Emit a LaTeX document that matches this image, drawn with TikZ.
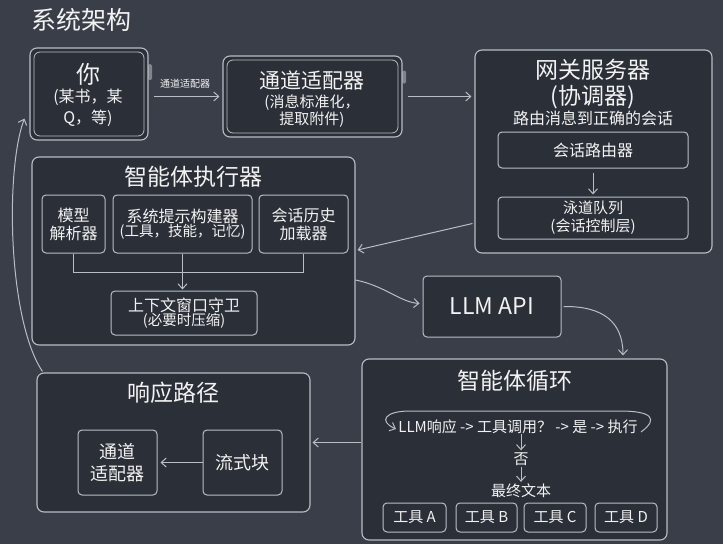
\documentclass[tikz,border=0pt]{standalone}
\usepackage{fontspec}
\setmainfont{Noto Sans CJK SC}
\usetikzlibrary{arrows.meta,calc}
\definecolor{bg}{HTML}{393E49}
\definecolor{boxfill}{HTML}{2B2F38}
\definecolor{edge}{HTML}{B9BDC5}
\definecolor{txt}{HTML}{F2F2F2}
\definecolor{btn}{HTML}{80848C}
\begin{document}
\begin{tikzpicture}[x=1pt,y=-1pt,
  box/.style={draw=edge,fill=boxfill,line width=1.1pt,rounded corners=7pt,inner sep=0pt},
  inbox/.style={draw=edge,line width=0.8pt,rounded corners=6pt,inner sep=0pt},
  sbox/.style={draw=edge,fill=boxfill,line width=1pt,rounded corners=4pt,inner sep=2pt,text=txt,align=center},
  lbl/.style={text=txt,align=center,inner sep=0pt},
  btnstyle/.style={fill=btn,rounded corners=1.5pt,inner sep=0pt,minimum width=4pt},
  arr/.style={draw=edge,line width=1pt,-{Straight Barb[length=5pt,width=9pt]}},
  ln/.style={draw=edge,line width=1pt},
  fA/.style={font=\fontsize{25}{28}\selectfont},
  fB/.style={font=\fontsize{23}{27}\selectfont},
  fC/.style={font=\fontsize{16}{18}\selectfont},
  fD/.style={font=\fontsize{15}{18}\selectfont},
  fE/.style={font=\fontsize{18}{22}\selectfont},
]
% background
\fill[bg] (0,0) rectangle (723,544);
\useasboundingbox (0,0) rectangle (723,544);

% title
\node[lbl,fA,anchor=west] (title) at (31,20) {系统架构};

% you
\node[btnstyle,minimum height=16pt] (youbtn) at (150,72) {};
\node[box,minimum width=118pt,minimum height=92pt] (you) at (89,94) {};
\node[inbox,minimum width=110pt,minimum height=84pt] (youin) at (89,94) {};
\node[lbl,font=\fontsize{24}{26}\selectfont] (youT) at (88,74) {你};
\node[lbl,font=\fontsize{16}{21}\selectfont] (youS) at (88,108) {(某书，某\\Q，等)};

% channel adapter
\node[btnstyle,minimum height=13pt] (adbtn) at (404,77) {};
\node[box,minimum width=179pt,minimum height=81pt] (adapter) at (312.5,96.5) {};
\node[inbox,minimum width=171pt,minimum height=73pt] (adin) at (312.5,96.5) {};
\node[lbl,font=\fontsize{21}{24}\selectfont] (adT) at (312,80) {通道适配器};
\node[lbl,font=\fontsize{15}{17}\selectfont] (adS) at (312,111.5) {(消息标准化，\\提取附件)};

% label + arrows top row
\node[lbl,font=\fontsize{10}{12}\selectfont] (chl) at (185,84) {通道适配器};
\draw[arr] ($(you.east |- adapter.west)+(5,0)$) -- ($(adapter.west)+(-3,0)$);

% gateway
\node[box,minimum width=237pt,minimum height=203pt] (gw) at (593.5,151.5) {};
\node[lbl,fB] (gwT) at (593,70) {网关服务器};
\node[lbl,fB] (gwT2) at (593,97) {(协调器)};
\node[lbl,fC] (gwT3) at (593,118) {路由消息到正确的会话};
\node[sbox,fC,minimum width=190pt,minimum height=36pt] (router) at (593,150) {会话路由器};
\node[sbox,fD,minimum width=190pt,minimum height=42pt] (lane) at (593,218) {泳道队列\\(会话控制层)};
\draw[arr] ($(router.south)+(0,4)$) -- ($(lane.north)+(0,-2)$);

\draw[arr] ($(adapter.east)+(5,0)$) -- ($(adapter.east -| gw.west)+(-3,0)$);

% executor
\node[box,minimum width=323pt,minimum height=188pt] (exec) at (193.5,251) {};
\node[lbl,fB] (execT) at (193,177) {智能体执行器};
\node[sbox,fC,minimum width=63pt,minimum height=58pt] (model) at (73.5,224) {模型\\解析器};
\node[sbox,minimum width=139pt,minimum height=58pt] (sys) at (182.5,224)
  {{\fontsize{16}{18}\selectfont 系统提示构建器}\\{\fontsize{14.5}{18}\selectfont (工具，技能，记忆)}};
\node[sbox,fC,minimum width=89pt,minimum height=58pt] (hist) at (303.5,224) {会话历史\\加载器};
\node[sbox,minimum width=146pt,minimum height=44pt] (guard) at (184,313)
  {{\fontsize{16}{18}\selectfont 上下文窗口守卫}\\{\fontsize{14.5}{18}\selectfont (必要时压缩)}};
\draw[ln] (model.south) -- ++(0,19) -| (hist.south);
\draw[arr] (sys.south) -- ($(sys.south |- guard.north)+(0,-1)$);

% gateway -> executor
\draw[arr] ($(gw.west)+(-2,72)$) -- ($(exec.east)+(2,-1)$);

% LLM API
\node[sbox,fB,minimum width=138pt,minimum height=61pt] (llm) at (492,306.5) {LLM API};
\draw[arr] ($(exec.east)+(0,29)$) .. controls (385,286) and (400,302) .. ($(llm.west)+(-3,-3)$);

% agent loop
\node[box,minimum width=305pt,minimum height=181pt] (loop) at (514.5,449.5) {};
\draw[arr] ($(llm.east)+(2,0)$) .. controls (603,306) and (623,322) .. ($(loop.north)+(108.5,-3)$);
\node[lbl,fB] (loopT) at (515,381) {智能体循环};
\node[lbl,fD] (lp) at (518,427) {LLM响应 -> 工具调用？ -> 是 -> 执行};
\draw[arr] ($(lp)+(123,5)$) .. controls ($(lp)+(142,-9)$) and ($(lp)+(132,-16)$) .. ($(lp)+(102,-16)$)
  -- ($(lp)+(-108,-16)$) .. controls ($(lp)+(-133,-16)$) and ($(lp)+(-140,-6)$) .. ($(lp)+(-122,2)$);
\node[lbl,fD] (no) at (521,459) {否};
\node[lbl,fD] (fin) at (521,491) {最终文本};
\draw[arr] ($(no.north |- lp.south)+(0,0)$) -- ($(no.north)+(0,-2)$);
\draw[arr] ($(no.south)+(0,1)$) -- ($(fin.north)+(0,-2)$);
\node[sbox,fD,minimum width=63pt,minimum height=29pt] (toolA) at (414.5,517.5) {工具 A};
\node[sbox,fD,minimum width=61pt,minimum height=29pt] (toolB) at (486.5,517.5) {工具 B};
\node[sbox,fD,minimum width=62pt,minimum height=29pt] (toolC) at (555,517.5) {工具 C};
\node[sbox,fD,minimum width=62pt,minimum height=29pt] (toolD) at (626,517.5) {工具 D};

% response path
\node[box,minimum width=273pt,minimum height=139pt] (resp) at (173.5,442.5) {};
\node[lbl,fB] (respT) at (173,393) {响应路径};
\node[sbox,font=\fontsize{18}{22}\selectfont,minimum width=79pt,minimum height=65pt] (chan2) at (117.5,462.5) {通道\\适配器};
\node[sbox,fE,minimum width=79pt,minimum height=65pt] (stream) at (242.5,462.5) {流式块};
\draw[arr] (stream.west) -- ($(chan2.east)+(3,0)$);
\draw[arr] (loop.west |- resp.east) -- ($(resp.east)+(2,0)$);

% feedback to user
\draw[arr] ($(resp.north west)+(6,-1)$) .. controls (8,320) and (5,170) .. ($(you.south west)+(-5,-22)$);
\end{tikzpicture}
\end{document}
